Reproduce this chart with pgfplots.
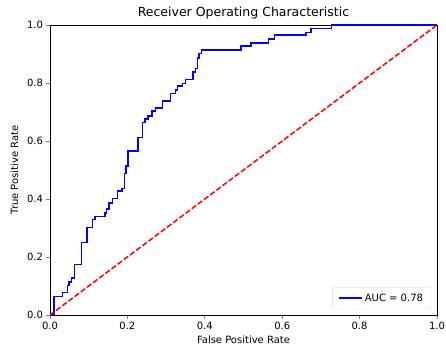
\documentclass[border=0pt]{standalone}
\usepackage{pgfplots}
\pgfplotsset{compat=1.18}
\usepackage{fontspec}
\setmainfont{DejaVu Sans}
\definecolor{mblue}{rgb}{0,0,1}
\definecolor{mred}{rgb}{1,0,0}
\begin{document}
\begin{tikzpicture}
\begin{axis}[
  name=ax,
  scale only axis,
  width=387pt, height=290pt,
  xmin=0, xmax=1, ymin=0, ymax=1,
  xtick={0,0.2,0.4,0.6,0.8,1.0},
  ytick={0,0.2,0.4,0.6,0.8,1.0},
  xticklabels={0.0,0.2,0.4,0.6,0.8,1.0},
  yticklabels={0.0,0.2,0.4,0.6,0.8,1.0},
  /pgf/number format/assume math mode=true,
  tick label style={font=\fontsize{10}{12}\selectfont},
  label style={font=\fontsize{10}{12}\selectfont},
  title style={font=\fontsize{12.5}{14}\selectfont, yshift=-4pt},
  title={Receiver Operating Characteristic},
  xlabel={False Positive Rate},
  ylabel={True Positive Rate},
  xlabel style={yshift=1pt},
  ylabel style={yshift=2pt},
  tick pos=left, tick align=outside,
  major tick length=3.5pt,
  tick style={line width=0.8pt},
  axis line style={line width=0.8pt},
  legend style={font=\fontsize{10}{12}\selectfont, draw=black!15, rounded corners=2pt, inner xsep=6pt, inner ysep=4.5pt, at={(0.985,0.02)}, anchor=south east},
  legend cell align=left,
  legend image code/.code={\draw[draw=mblue, line width=1.5pt] (0pt,0pt) -- (23pt,0pt);},
]
\addplot[draw=mblue, line width=1.5pt, sharp plot, no marks] coordinates {
(0,0) (0.01,0) (0.01,0.064) (0.032,0.064) (0.032,0.078) (0.045,0.078) (0.045,0.102)
(0.049,0.102) (0.049,0.113) (0.056,0.113) (0.056,0.127) (0.063,0.127) (0.063,0.174)
(0.082,0.174) (0.082,0.25) (0.095,0.25) (0.095,0.301) (0.110,0.301) (0.110,0.329)
(0.116,0.329) (0.116,0.340) (0.142,0.340) (0.142,0.352) (0.146,0.352) (0.146,0.365)
(0.153,0.365) (0.153,0.386) (0.162,0.386) (0.162,0.401) (0.174,0.401) (0.174,0.428)
(0.186,0.428) (0.186,0.436) (0.192,0.436) (0.192,0.488) (0.197,0.488) (0.197,0.513)
(0.202,0.513) (0.202,0.565) (0.227,0.565) (0.227,0.612) (0.239,0.612) (0.239,0.664)
(0.245,0.664) (0.245,0.676) (0.253,0.676) (0.253,0.687) (0.263,0.687) (0.263,0.703)
(0.273,0.703) (0.273,0.713) (0.291,0.713) (0.291,0.738) (0.311,0.738) (0.311,0.764)
(0.324,0.764) (0.324,0.775) (0.330,0.775) (0.330,0.789) (0.343,0.789) (0.343,0.799)
(0.350,0.799) (0.350,0.812) (0.370,0.812) (0.370,0.838) (0.376,0.838) (0.376,0.850)
(0.381,0.850) (0.381,0.887) (0.385,0.887) (0.385,0.901) (0.392,0.901) (0.392,0.913)
(0.493,0.913) (0.493,0.927) (0.520,0.927) (0.520,0.938) (0.564,0.938) (0.564,0.951)
(0.580,0.951) (0.580,0.965) (0.661,0.965) (0.661,0.974) (0.674,0.974) (0.674,0.988)
(0.728,0.988) (0.728,1.0) (1,1)
};
\addlegendentry{AUC = 0.78}
\addplot[draw=mred, line width=1.5pt, dash pattern=on 5.4pt off 2.3pt, no marks, forget plot] coordinates {(0,0) (1,1)};
\end{axis}
\pgfresetboundingbox
\useasboundingbox (ax.south west) ++(-50pt,-36pt) rectangle ++(446pt,351pt);
\end{tikzpicture}
\end{document}
